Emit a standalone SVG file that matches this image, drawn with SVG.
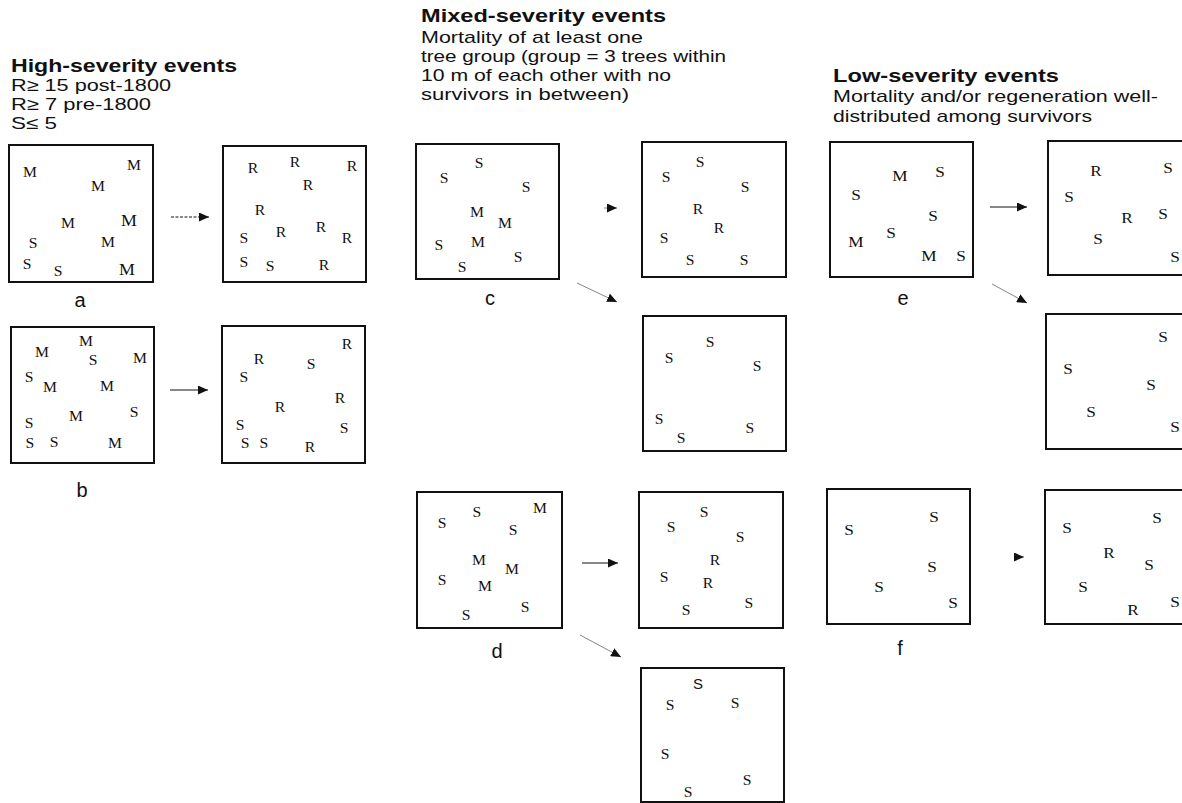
<svg xmlns="http://www.w3.org/2000/svg" width="1182" height="803" viewBox="0 0 1182 803">
<style>
.bg{fill:#fff}
.box{fill:none;stroke:#111;stroke-width:2}
.t{font-family:"Liberation Serif","Times New Roman",serif;font-size:14px;fill:#111;text-anchor:middle;transform-box:fill-box;transform-origin:center;transform:scaleX(1.12)}
.t3{font-family:"Liberation Serif","Times New Roman",serif;font-size:15px;fill:#111;text-anchor:middle;transform-box:fill-box;transform-origin:center;transform:scaleX(1.15)}
.h{font-family:"Liberation Sans",Arial,sans-serif;font-size:18px;font-weight:bold;fill:#111}
.p{font-family:"Liberation Sans",Arial,sans-serif;font-size:17px;fill:#111}
.lab{font-family:"Liberation Sans",Arial,sans-serif;font-size:20px;fill:#111;text-anchor:middle}
.ar{stroke:#111;stroke-width:1;fill:none}
.dg{stroke:#777;stroke-width:0.9;fill:none}
</style>
<defs>
<marker id="ah" markerUnits="userSpaceOnUse" markerWidth="10" markerHeight="9" refX="10" refY="4.5" orient="auto">
<path d="M0,0 L10,4.5 L0,9 z" fill="#111"/>
</marker>
</defs>
<rect class="bg" x="0" y="0" width="1182" height="803"/>

<g id="header-high">
<text class="h" x="11" y="72" textLength="226" lengthAdjust="spacingAndGlyphs">High-severity events</text>
<text class="p" x="11" y="91" textLength="160" lengthAdjust="spacingAndGlyphs">R≥ 15 post-1800</text>
<text class="p" x="11" y="110" textLength="140" lengthAdjust="spacingAndGlyphs">R≥ 7 pre-1800</text>
<text class="p" x="11" y="129" textLength="46" lengthAdjust="spacingAndGlyphs">S≤ 5</text>
</g>
<g id="header-mixed">
<text class="h" x="421" y="22" textLength="245" lengthAdjust="spacingAndGlyphs">Mixed-severity events</text>
<text class="p" x="421" y="43" textLength="222" lengthAdjust="spacingAndGlyphs">Mortality of at least one</text>
<text class="p" x="421" y="62" textLength="305" lengthAdjust="spacingAndGlyphs">tree group (group = 3 trees within</text>
<text class="p" x="421" y="81" textLength="250" lengthAdjust="spacingAndGlyphs">10 m of each other with no</text>
<text class="p" x="421" y="100" textLength="208" lengthAdjust="spacingAndGlyphs">survivors in between)</text>
</g>
<g id="header-low">
<text class="h" x="833" y="82" textLength="226" lengthAdjust="spacingAndGlyphs">Low-severity events</text>
<text class="p" x="833" y="102" textLength="325" lengthAdjust="spacingAndGlyphs">Mortality and/or regeneration well-</text>
<text class="p" x="833" y="122" textLength="259" lengthAdjust="spacingAndGlyphs">distributed among survivors</text>
</g>

<g id="a-before">
<rect class="box" x="9" y="145" width="144" height="137"/>
<text class="t" x="30" y="177">M</text><text class="t" x="134" y="170">M</text><text class="t" x="98" y="191">M</text>
<text class="t" x="68" y="228">M</text><text class="t" x="129" y="226" style="font-size:16px">M</text><text class="t" x="33" y="248">S</text>
<text class="t" x="108" y="247">M</text><text class="t" x="27" y="269">S</text><text class="t" x="58" y="276">S</text>
<text class="t" x="127" y="275" style="font-size:16px">M</text>
<text class="lab" x="80" y="307">a</text>
</g>
<g id="a-after">
<rect class="box" x="223" y="146" width="143" height="136"/>
<text class="t" x="253" y="173">R</text><text class="t" x="295" y="167">R</text><text class="t" x="352" y="171">R</text>
<text class="t" x="308" y="190">R</text><text class="t" x="260" y="215">R</text><text class="t" x="244" y="243">S</text>
<text class="t" x="281" y="237">R</text><text class="t" x="321" y="232">R</text><text class="t" x="347" y="243">R</text>
<text class="t" x="244" y="267">S</text><text class="t" x="270" y="271">S</text><text class="t" x="324" y="270">R</text>
</g>
<g id="b-before">
<rect class="box" x="11" y="327" width="143" height="136"/>
<text class="t" x="42" y="357">M</text><text class="t" x="86" y="346">M</text><text class="t" x="93" y="365">S</text>
<text class="t" x="140" y="363">M</text><text class="t" x="29" y="382">S</text><text class="t" x="50" y="392">M</text>
<text class="t" x="107" y="391">M</text><text class="t" x="29" y="428">S</text><text class="t" x="76" y="421">M</text>
<text class="t" x="134" y="417">S</text><text class="t" x="30" y="448">S</text><text class="t" x="54" y="447">S</text>
<text class="t" x="115" y="448">M</text>
<text class="lab" x="82" y="497">b</text>
</g>
<g id="b-after">
<rect class="box" x="222" y="326" width="143" height="137"/>
<text class="t" x="259" y="364">R</text><text class="t" x="347" y="349">R</text><text class="t" x="311" y="369">S</text>
<text class="t" x="244" y="382">S</text><text class="t" x="280" y="412">R</text><text class="t" x="340" y="403">R</text>
<text class="t" x="240" y="430">S</text><text class="t" x="344" y="433">S</text><text class="t" x="245" y="448">S</text>
<text class="t" x="264" y="448">S</text><text class="t" x="310" y="452">R</text>
</g>

<g id="c-before">
<rect class="box" x="416" y="144" width="143" height="135"/>
<text class="t" x="479" y="168">S</text><text class="t" x="444" y="183">S</text><text class="t" x="526" y="192">S</text>
<text class="t" x="477" y="217">M</text><text class="t" x="505" y="228">M</text><text class="t" x="478" y="247">M</text>
<text class="t" x="439" y="250">S</text><text class="t" x="518" y="262">S</text><text class="t" x="462" y="272">S</text>
<text class="lab" x="490" y="305">c</text>
</g>
<g id="c-after-regen">
<rect class="box" x="642" y="142" width="144" height="135"/>
<text class="t" x="700" y="167">S</text><text class="t" x="666" y="182">S</text><text class="t" x="745" y="192">S</text>
<text class="t" x="698" y="214">R</text><text class="t" x="719" y="233">R</text><text class="t" x="664" y="243">S</text>
<text class="t" x="690" y="265">S</text><text class="t" x="744" y="265">S</text>
</g>
<g id="c-after-survivors">
<rect class="box" x="643" y="316" width="143" height="135"/>
<text class="t" x="710" y="347">S</text><text class="t" x="669" y="363">S</text><text class="t" x="757" y="371">S</text>
<text class="t" x="659" y="424">S</text><text class="t" x="681" y="443">S</text><text class="t" x="750" y="433">S</text>
</g>
<g id="d-before">
<rect class="box" x="417" y="492" width="145" height="136"/>
<text class="t" x="477" y="517">S</text><text class="t" x="540" y="513">M</text><text class="t" x="442" y="528">S</text>
<text class="t" x="513" y="535">S</text><text class="t" x="479" y="565">M</text><text class="t" x="512" y="574">M</text>
<text class="t" x="442" y="585">S</text><text class="t" x="485" y="591">M</text><text class="t" x="525" y="612">S</text>
<text class="t" x="466" y="620">S</text>
<text class="lab" x="497" y="658">d</text>
</g>
<g id="d-after-regen">
<rect class="box" x="639" y="492" width="144" height="136"/>
<text class="t" x="704" y="517">S</text><text class="t" x="671" y="532">S</text><text class="t" x="740" y="542">S</text>
<text class="t" x="715" y="565">R</text><text class="t" x="664" y="582">S</text><text class="t" x="708" y="588">R</text>
<text class="t" x="749" y="608">S</text><text class="t" x="686" y="615">S</text>
</g>
<g id="d-after-survivors">
<rect class="box" x="641" y="668" width="143" height="134"/>
<text class="p" x="698" y="689" style="font-size:15px;text-anchor:middle">S</text>
<text class="t" x="670" y="710">S</text><text class="t" x="735" y="708">S</text>
<text class="t" x="665" y="759">S</text><text class="t" x="747" y="785">S</text><text class="t" x="688" y="797">S</text>
</g>

<g id="e-before">
<rect class="box" x="830" y="142" width="143" height="135"/>
<text class="t3" x="900" y="181">M</text><text class="t3" x="940" y="177">S</text><text class="t3" x="856" y="200">S</text>
<text class="t3" x="933" y="221">S</text><text class="t3" x="891" y="238">S</text><text class="t3" x="856" y="247">M</text>
<text class="t3" x="929" y="261">M</text><text class="t3" x="961" y="261">S</text>
<text class="lab" x="903" y="305">e</text>
</g>
<g id="e-after-regen">
<rect class="box" x="1048" y="141" width="143" height="134"/>
<text class="t3" x="1096" y="176">R</text><text class="t3" x="1168" y="173">S</text><text class="t3" x="1069" y="202">S</text>
<text class="t3" x="1127" y="223">R</text><text class="t3" x="1163" y="219">S</text><text class="t3" x="1098" y="244">S</text>
<text class="t3" x="1175" y="262">S</text>
</g>
<g id="e-after-survivors">
<rect class="box" x="1046" y="314" width="143" height="135"/>
<text class="t3" x="1163" y="342">S</text><text class="t3" x="1068" y="374">S</text><text class="t3" x="1151" y="390">S</text>
<text class="t3" x="1091" y="417">S</text><text class="t3" x="1175" y="432">S</text>
</g>
<g id="f-before">
<rect class="box" x="827" y="489" width="143" height="135"/>
<text class="t3" x="849" y="535">S</text><text class="t3" x="934" y="522">S</text><text class="t3" x="932" y="572">S</text>
<text class="t3" x="879" y="592">S</text><text class="t3" x="953" y="608">S</text>
<text class="lab" x="900" y="655">f</text>
</g>
<g id="f-after">
<rect class="box" x="1045" y="490" width="143" height="134"/>
<text class="t3" x="1067" y="533">S</text><text class="t3" x="1157" y="523">S</text><text class="t3" x="1109" y="558">R</text>
<text class="t3" x="1149" y="570">S</text><text class="t3" x="1083" y="592">S</text><text class="t3" x="1133" y="615">R</text>
<text class="t3" x="1175" y="607">S</text>
</g>

<g id="connectors">
<line class="ar" x1="171" y1="217" x2="209" y2="217" stroke-dasharray="3 1.5" marker-end="url(#ah)"/>
<line class="ar" x1="170" y1="390" x2="208" y2="390" marker-end="url(#ah)"/>
<line class="dg" x1="604" y1="208" x2="617" y2="208" marker-end="url(#ah)"/>
<line class="dg" x1="577" y1="283" x2="617" y2="302" marker-end="url(#ah)"/>
<line class="ar" x1="582" y1="563" x2="618" y2="563" marker-end="url(#ah)"/>
<line class="dg" x1="580" y1="635" x2="621" y2="657" marker-end="url(#ah)"/>
<line class="ar" x1="990" y1="207" x2="1027" y2="207" marker-end="url(#ah)"/>
<line class="dg" x1="992" y1="284" x2="1027" y2="303" marker-end="url(#ah)"/>
<line class="dg" x1="1016" y1="557" x2="1024" y2="557" marker-end="url(#ah)"/>
</g>
</svg>
